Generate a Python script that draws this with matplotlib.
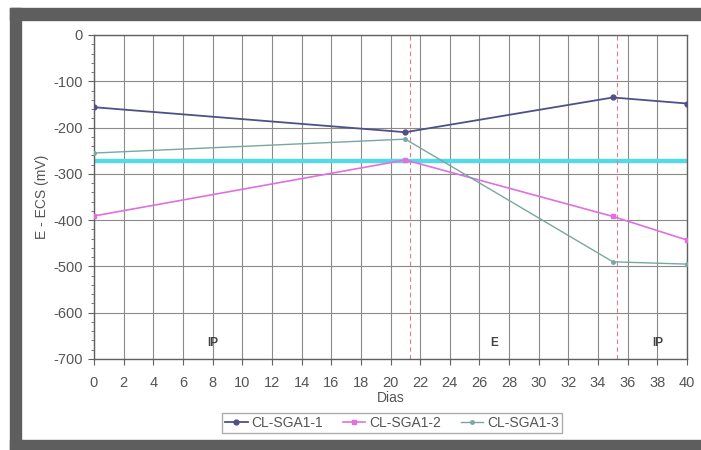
import matplotlib
matplotlib.use("Agg")
import matplotlib.pyplot as plt
from matplotlib.patches import Rectangle
from matplotlib.ticker import MultipleLocator

plt.rcParams['font.family'] = ['Liberation Sans', 'DejaVu Sans']
plt.rcParams['axes.unicode_minus'] = False

days = [0, 21, 35, 40]
sga1_1 = [-156, -210, -135, -148]
sga1_2 = [-391, -270, -392, -443]
sga1_3 = [-255, -225, -490, -495]
reference_level = -273
phase_bounds = [21.3, 35.3]
phase_labels = ["IP", "E", "IP"]
phase_label_x = [8, 27, 38]
series_names = ["CL-SGA1-1", "CL-SGA1-2", "CL-SGA1-3"]

fig = plt.figure(figsize=(7.01, 4.5), dpi=100)
W, H = 701, 450

# grey photo frame around the chart
frame_col = "#5e5e5e"
for (x0, y0, w, h) in [(10, 8, 691, 12), (10, 8, 11, 442), (10, 440, 691, 10)]:
    fig.patches.append(Rectangle((x0 / W, 1 - (y0 + h) / H), w / W, h / H,
                                 transform=fig.transFigure, color=frame_col, zorder=0))

ax = fig.add_axes([94 / W, 1 - 359 / H, (687 - 94) / W, (359 - 35) / H])
ax.set_xlim(0, 40)
ax.set_ylim(-700, 0)
ax.xaxis.set_major_locator(MultipleLocator(2))
ax.yaxis.set_major_locator(MultipleLocator(100))
ax.yaxis.set_minor_locator(MultipleLocator(20))
ax.grid(True, which="major", color="#8a8a8a", lw=0.8)
ax.set_axisbelow(True)
for s in ax.spines.values():
    s.set_color("#606060")
    s.set_linewidth(1.0)
ax.tick_params(axis="both", which="major", colors="#606060", labelcolor="#555555",
               labelsize=10.5, length=4)
ax.tick_params(axis="y", which="minor", colors="#606060", length=2)
ax.tick_params(axis="x", pad=8)
ax.tick_params(axis="y", pad=4)

ax.axhline(reference_level, color="#55d8e8", lw=3.2, zorder=2)
for xb in phase_bounds:
    ax.axvline(xb, color="#e07a8a", lw=0.8, ls=(0, (4, 3)), zorder=2)

ax.plot(days, sga1_1, color="#505088", lw=1.3, marker="o", ms=3.5, label=series_names[0], zorder=4)
ax.plot(days, sga1_2, color="#e070e0", lw=1.2, marker="s", ms=3.5, label=series_names[1], zorder=3)
ax.plot(days, sga1_3, color="#78a8a0", lw=1.0, marker="o", ms=2.5, label=series_names[2], zorder=3)

for lx, lt in zip(phase_label_x, phase_labels):
    ax.text(lx, -665, lt, ha="center", va="center", fontsize=8.5, color="#444444", fontweight="bold")

ax.set_xlabel("Dias", fontsize=10, color="#555555", labelpad=1)
ax.set_ylabel("E - ECS (mV)", fontsize=10, color="#555555", labelpad=3)

leg = fig.legend(loc="center", bbox_to_anchor=(392 / W, 1 - 423 / H), ncol=3, fontsize=10,
                 frameon=True, fancybox=False, edgecolor="#999999", handlelength=1.6,
                 columnspacing=1.4, borderpad=0.25, handletextpad=0.3)
for t in leg.get_texts():
    t.set_color("#555555")

fig.savefig("out.png", dpi=100, facecolor="white")
